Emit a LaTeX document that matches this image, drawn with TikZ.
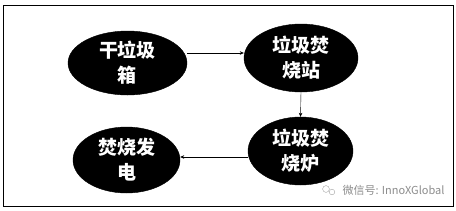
\documentclass[tikz,border=0pt]{standalone}
\usepackage{fontspec}
\newfontfamily\cjk{Noto Sans CJK SC}
\usetikzlibrary{arrows.meta, shapes.geometric}

\begin{document}
\begin{tikzpicture}[
    x=1pt, y=-1pt,
    >=Stealth,
    stage/.style={draw=black, fill=black, ellipse, inner sep=0pt,
                  text=white, align=center, font=\cjk\bfseries\fontsize{19}{25}\selectfont},
    flow/.style={->, thin, >={Stealth[length=4pt, width=3.5pt]}},
    watermark/.style={font=\cjk\fontsize{11}{13}\selectfont, text=black!45, anchor=west},
]

\useasboundingbox (0, 0) rectangle (456, 210);
\draw[thin] (3, 5) rectangle (453, 206);

% --- Stages ---
\node[stage, minimum width=119pt, minimum height=64pt] (bin) at (127.5, 63) {干垃圾\\箱};
\node[stage, minimum width=114pt, minimum height=68pt] (station) at (301, 58) {垃圾焚\\烧站};
\node[stage, minimum width=105pt, minimum height=68pt] (furnace) at (300.5, 151) {垃圾焚\\烧炉};
\node[stage, minimum width=107pt, minimum height=66pt] (power) at (126.5, 160) {焚烧发\\电};

% --- Flow ---
\draw[flow] (bin.east |- 0, 53) -- (station.west |- 0, 53);
\draw[flow] (station.south) -- (furnace.north);
\draw[flow] (furnace.west |- 0, 157) -- (power.east |- 0, 157);

% --- Watermark ---
\draw[black!35, thin] (326, 189) circle (3.4pt);
\draw[black!35, thin] (332, 192) circle (2.8pt);
\node[watermark] (wx) at (339, 190) {微信号: InnoXGlobal};

\end{tikzpicture}
\end{document}
